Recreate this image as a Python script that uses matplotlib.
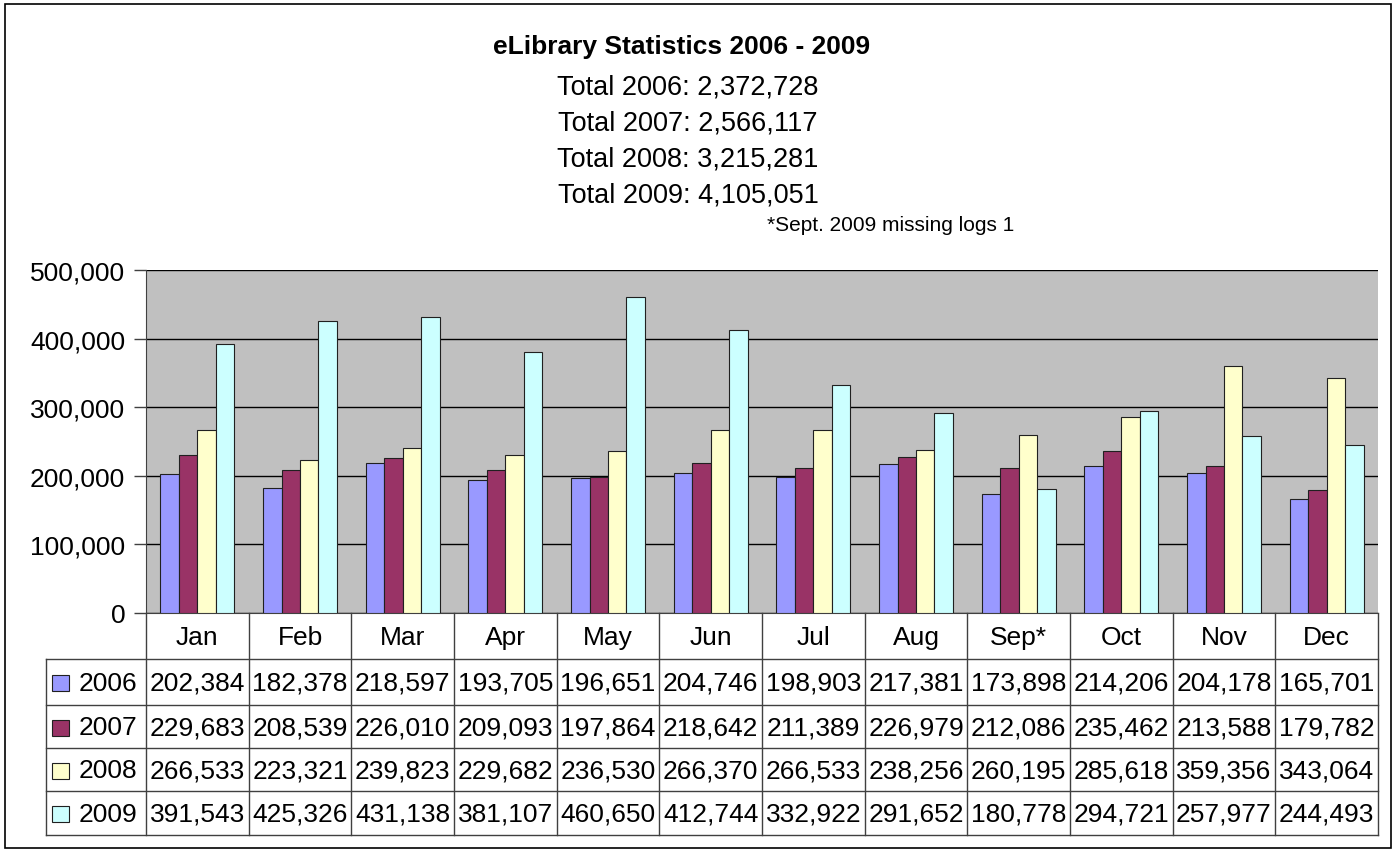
import numpy as np
import matplotlib
matplotlib.use("Agg")
import matplotlib.pyplot as plt
from matplotlib.patches import Rectangle
from matplotlib.ticker import FuncFormatter

plt.rcParams['font.family'] = ['Liberation Sans', 'DejaVu Sans']

months = ['Jan', 'Feb', 'Mar', 'Apr', 'May', 'Jun', 'Jul', 'Aug', 'Sep*', 'Oct', 'Nov', 'Dec']
years = ['2006', '2007', '2008', '2009']
v2006 = [202384, 182378, 218597, 193705, 196651, 204746, 198903, 217381, 173898, 214206, 204178, 165701]
v2007 = [229683, 208539, 226010, 209093, 197864, 218642, 211389, 226979, 212086, 235462, 213588, 179782]
v2008 = [266533, 223321, 239823, 229682, 236530, 266370, 266533, 238256, 260195, 285618, 359356, 343064]
v2009 = [391543, 425326, 431138, 381107, 460650, 412744, 332922, 291652, 180778, 294721, 257977, 244493]
totals = ['2,372,728', '2,566,117', '3,215,281', '4,105,051']
colors = ['#9999FF', '#993366', '#FFFFCC', '#CCFFFF']

series = [v2006, v2007, v2008, v2009]

W, H = 1395, 853
fig = plt.figure(figsize=(W / 100, H / 100), dpi=100)

# outer chart border
fig.add_artist(Rectangle((5 / W, 4 / H), 1386 / W, 844 / H, transform=fig.transFigure,
                         fill=False, edgecolor='black', linewidth=1.2))

# titles
fig.text(682 / W, 1 - 47 / H, 'eLibrary Statistics 2006 - 2009', ha='center', va='center',
         fontsize=19, fontweight='bold')
for i, (yr, tot) in enumerate(zip(years, totals)):
    fig.text(688 / W, 1 - (87 + 36 * i) / H, f'Total {yr}: {tot}', ha='center', va='center',
             fontsize=19.5)
fig.text(767 / W, 1 - 226 / H, '*Sept. 2009 missing logs 1', ha='left', va='center', fontsize=15)

# plot area
x0, x1, ytop, ybot = 146, 1378, 271, 614
ax = fig.add_axes([x0 / W, 1 - ybot / H, (x1 - x0) / W, (ybot - ytop) / H])
ax.set_facecolor('#C0C0C0')
x = np.arange(len(months))
bw = 0.18
for i, (vals, c) in enumerate(zip(series, colors)):
    ax.bar(x + (i - 1.5) * bw, vals, width=bw, color=c, edgecolor='#202020', linewidth=0.8, zorder=3)
ax.set_xlim(-0.5, 11.5)
ax.set_ylim(0, 500000)
ax.set_yticks(np.arange(0, 500001, 100000))
ax.yaxis.set_major_formatter(FuncFormatter(lambda v, p: f'{int(v):,}'))
ax.grid(axis='y', color='black', linewidth=1, zorder=1)
ax.set_xticks([])
ax.tick_params(axis='y', length=9, width=1, color='#404040', labelsize=19, pad=6)
for s in ['top', 'right']:
    ax.spines[s].set_visible(False)
ax.spines['left'].set_color('#404040')
ax.spines['bottom'].set_color('#404040')

# data table below
tx0 = 46
tab = fig.add_axes([tx0 / W, 1 - 836 / H, (x1 - tx0) / W, (836 - ybot) / H])
unit = (x1 - x0) / 12
tab.set_xlim(-0.5 - (x0 - tx0) / unit, 11.5)
rows = [0, 46, 92, 135, 178, 222]
tab.set_ylim(rows[-1], rows[0])
tab.axis('off')
lc = '#404040'
left = -0.5 - (x0 - tx0) / unit
for k in range(13):
    tab.plot([k - 0.5, k - 0.5], [0, rows[-1]], color=lc, linewidth=1, clip_on=False)
tab.plot([left, left], [rows[1], rows[-1]], color=lc, linewidth=1, clip_on=False)
for r in rows[1:]:
    tab.plot([left, 11.5], [r, r], color=lc, linewidth=1, clip_on=False)

for k, m in enumerate(months):
    tab.text(k, (rows[0] + rows[1]) / 2 + 1, m, ha='center', va='center', fontsize=19)

for i, (yr, vals, c) in enumerate(zip(years, series, colors)):
    yc = (rows[i + 1] + rows[i + 2]) / 2 + 1
    tab.add_patch(Rectangle((left + 6 / unit, yc - 8), 17 / unit, 16, facecolor=c,
                            edgecolor='#202020', linewidth=0.8, clip_on=False))
    tab.text(left + 33 / unit, yc, yr, ha='left', va='center', fontsize=19)
    for k, v in enumerate(vals):
        tab.text(k, yc, f'{v:,}', ha='center', va='center', fontsize=19)

fig.savefig('out.png', dpi=100)
